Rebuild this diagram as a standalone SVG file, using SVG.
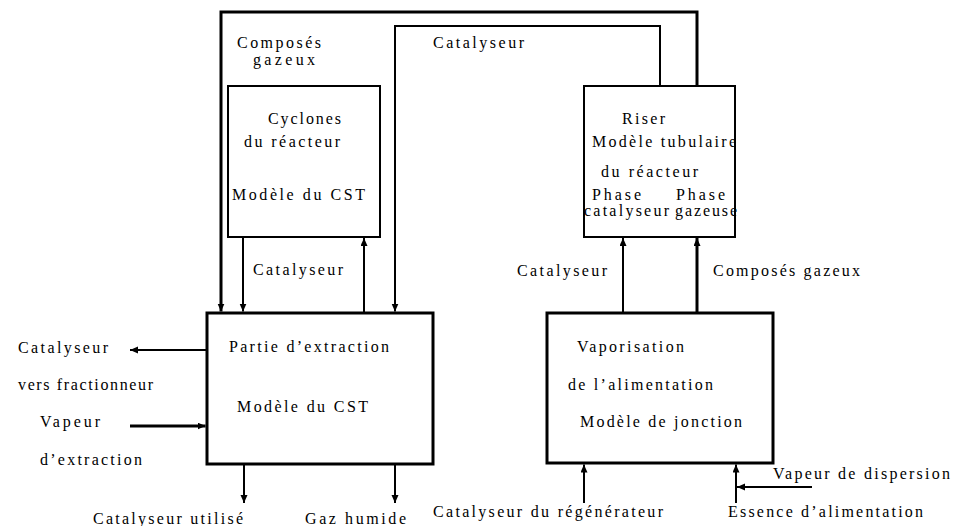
<svg xmlns="http://www.w3.org/2000/svg" width="954" height="526" viewBox="0 0 954 526">
<style>
text{font-family:"Liberation Serif","Times New Roman",serif;font-size:16px;fill:#000}
.box{fill:none;stroke:#000}
.b2{stroke-width:2}
.b3{stroke-width:3}
.c{fill:none;stroke:#000;stroke-width:2}
.t{fill:none;stroke:#000;stroke-width:3}
</style>
<defs>
<marker id="ah" markerUnits="userSpaceOnUse" markerWidth="8" markerHeight="8" refX="8" refY="3.5" orient="auto">
<path d="M0,0 L8,3.5 L0,7 z" fill="#000"/>
</marker>
</defs>
<rect width="954" height="526" fill="#fff"/>
<g id="connectors">
<path class="t" d="M697,86 V12 H221 V311.5" marker-end="url(#ah)"/>
<path class="c" d="M660,86 V26 H395 V311.5" marker-end="url(#ah)"/>
<path class="c" d="M243,237 V311.5" marker-end="url(#ah)"/>
<path class="c" d="M364,313 V238" marker-end="url(#ah)"/>
<path class="c" d="M623,313 V238" marker-end="url(#ah)"/>
<path class="t" d="M697,313 V238" marker-end="url(#ah)"/>
<path class="c" d="M207,350 H130" marker-end="url(#ah)"/>
<path class="t" d="M130,426 H205.5" marker-end="url(#ah)"/>
<path class="c" d="M244,464 V503" marker-end="url(#ah)"/>
<path class="c" d="M395,464 V503" marker-end="url(#ah)"/>
<path class="c" d="M584,503 V464.5" marker-end="url(#ah)"/>
<path class="c" d="M736,503 V464.5" marker-end="url(#ah)"/>
<path class="c" d="M812,487 H737" marker-end="url(#ah)"/>
</g>
<g id="labels">
<text x="237" y="48" textLength="84" lengthAdjust="spacing">Composés</text>
<text x="253" y="65" textLength="62" lengthAdjust="spacing">gazeux</text>
<text x="433" y="48" textLength="91" lengthAdjust="spacing">Catalyseur</text>
<text x="253" y="275" textLength="90" lengthAdjust="spacing">Catalyseur</text>
<text x="517" y="276" textLength="90" lengthAdjust="spacing">Catalyseur</text>
<text x="713" y="276" textLength="147" lengthAdjust="spacing">Composés gazeux</text>
<text x="18" y="353" textLength="90" lengthAdjust="spacing">Catalyseur</text>
<text x="18" y="390" textLength="135" lengthAdjust="spacing">vers fractionneur</text>
<text x="40" y="427" textLength="60" lengthAdjust="spacing">Vapeur</text>
<text x="40" y="465" textLength="102" lengthAdjust="spacing">d’extraction</text>
<text x="93" y="524" textLength="150" lengthAdjust="spacing">Catalyseur utilisé</text>
<text x="305" y="524" textLength="101" lengthAdjust="spacing">Gaz humide</text>
<text x="433" y="517" textLength="230" lengthAdjust="spacing">Catalyseur du régénérateur</text>
<text x="728" y="517" textLength="195" lengthAdjust="spacing">Essence d’alimentation</text>
<text x="773" y="479" textLength="177" lengthAdjust="spacing">Vapeur de dispersion</text>
</g>
<g id="cyclones">
<rect class="box b2" x="228" y="86" width="152" height="151"/>
<text x="268" y="124" textLength="73" lengthAdjust="spacing">Cyclones</text>
<text x="244" y="147" textLength="96" lengthAdjust="spacing">du réacteur</text>
<text x="232" y="200" textLength="133" lengthAdjust="spacing">Modèle du CST</text>
</g>
<g id="riser">
<rect class="box b2" x="584" y="86" width="151" height="151"/>
<text x="622" y="124" textLength="43" lengthAdjust="spacing">Riser</text>
<text x="592" y="147" textLength="144" lengthAdjust="spacing">Modèle tubulaire</text>
<text x="601" y="177" textLength="97" lengthAdjust="spacing">du réacteur</text>
<text x="592" y="200" textLength="49" lengthAdjust="spacing">Phase</text>
<text x="584" y="216" textLength="85" lengthAdjust="spacing">catalyseur</text>
<text x="676" y="200" textLength="49" lengthAdjust="spacing">Phase</text>
<text x="675" y="216" textLength="62" lengthAdjust="spacing">gazeuse</text>
</g>
<g id="extraction">
<rect class="box b3" x="207" y="313" width="226" height="151"/>
<text x="229" y="352" textLength="160" lengthAdjust="spacing">Partie d’extraction</text>
<text x="237" y="412" textLength="131" lengthAdjust="spacing">Modèle du CST</text>
</g>
<g id="vaporisation">
<rect class="box b3" x="547" y="313" width="226" height="150"/>
<text x="577" y="352" textLength="107" lengthAdjust="spacing">Vaporisation</text>
<text x="568" y="390" textLength="145" lengthAdjust="spacing">de l’alimentation</text>
<text x="580" y="427" textLength="162" lengthAdjust="spacing">Modèle de jonction</text>
</g>
</svg>
